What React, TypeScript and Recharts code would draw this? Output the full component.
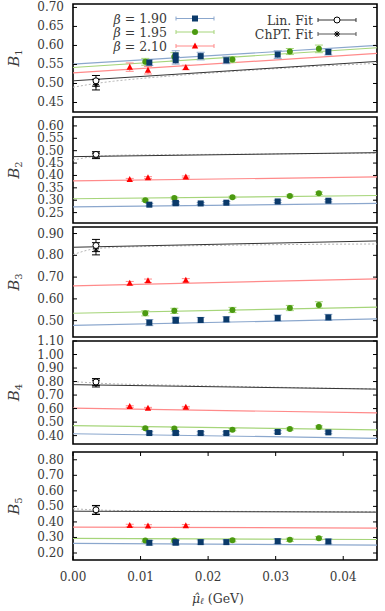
import React from "react";
import {
  ComposedChart,
  Line,
  Scatter,
  XAxis,
  YAxis,
  ErrorBar,
  ReferenceArea,
} from "recharts";

// x positions (mu_l in GeV)
const xTicks = [0, 0.01, 0.02, 0.03, 0.04];
const xB190 = [0.0113, 0.0152, 0.0152, 0.0189, 0.0227, 0.0303, 0.0378];
const xB195 = [0.0107, 0.015, 0.0236, 0.0321, 0.0364];
const xB210 = [0.0084, 0.0111, 0.0167];
const xPhys = [0.0034];
const xFit = [0, 0.045];
const xChpt = [0, 0.003, 0.006, 0.01, 0.02, 0.03, 0.045];

// B1
const b1B190 = [0.555, 0.574, 0.561, 0.572, 0.561, 0.576, 0.583];
const b1B190Err = [0.008, 0.012, 0.01, 0.01, 0.009, 0.01, 0.008];
const b1B195 = [0.557, 0.57, 0.563, 0.584, 0.591];
const b1B195Err = [0.009, 0.011, 0.008, 0.008, 0.01];
const b1B210 = [0.543, 0.535, 0.542];
const b1B210Err = [0.011, 0.01, 0.006];
const b1Lin = [0.507];
const b1Chpt = [0.497];
const b1PhysErr = [0.014];
const b1FitB190 = [0.551, 0.6];
const b1FitB195 = [0.542, 0.594];
const b1FitB210 = [0.528, 0.579];
const b1FitLin = [0.507, 0.558];
const b1FitChpt = [0.49, 0.499, 0.506, 0.513, 0.527, 0.539, 0.553];

// B2
const b2B190 = [0.282, 0.289, 0.288, 0.287, 0.29, 0.295, 0.298];
const b2B190Err = [0.005, 0.005, 0.005, 0.004, 0.005, 0.005, 0.005];
const b2B195 = [0.3, 0.309, 0.312, 0.317, 0.328];
const b2B195Err = [0.004, 0.004, 0.004, 0.004, 0.005];
const b2B210 = [0.384, 0.391, 0.394];
const b2B210Err = [0.004, 0.004, 0.004];
const b2Lin = [0.485];
const b2Chpt = [0.479];
const b2PhysErr = [0.011];
const b2FitB190 = [0.273, 0.287];
const b2FitB195 = [0.306, 0.319];
const b2FitB210 = [0.378, 0.394];
const b2FitLin = [0.476, 0.492];
const b2FitChpt = [0.462, 0.476, 0.481, 0.483, 0.485, 0.487, 0.49];

// B3
const b3B190 = [0.491, 0.503, 0.5, 0.503, 0.506, 0.512, 0.515];
const b3B190Err = [0.014, 0.014, 0.012, 0.012, 0.012, 0.014, 0.014];
const b3B195 = [0.534, 0.545, 0.549, 0.558, 0.572];
const b3B195Err = [0.012, 0.012, 0.012, 0.012, 0.015];
const b3B210 = [0.672, 0.683, 0.685];
const b3B210Err = [0.008, 0.008, 0.008];
const b3Lin = [0.845];
const b3Chpt = [0.83];
const b3PhysErr = [0.028];
const b3FitB190 = [0.478, 0.508];
const b3FitB195 = [0.534, 0.562];
const b3FitB210 = [0.66, 0.692];
const b3FitLin = [0.837, 0.866];
const b3FitChpt = [0.803, 0.829, 0.836, 0.84, 0.845, 0.849, 0.852];

// B4
const b4B190 = [0.419, 0.419, 0.42, 0.419, 0.419, 0.427, 0.424];
const b4B190Err = [0.01, 0.01, 0.01, 0.01, 0.01, 0.01, 0.01];
const b4B195 = [0.454, 0.452, 0.444, 0.449, 0.464];
const b4B195Err = [0.008, 0.008, 0.008, 0.008, 0.008];
const b4B210 = [0.615, 0.603, 0.61];
const b4B210Err = [0.006, 0.006, 0.006];
const b4Lin = [0.797];
const b4Chpt = [0.785];
const b4PhysErr = [0.025];
const b4FitB190 = [0.414, 0.38];
const b4FitB195 = [0.474, 0.442];
const b4FitB210 = [0.603, 0.568];
const b4FitLin = [0.777, 0.744];
const b4FitChpt = [0.8, 0.79, 0.783, 0.778, 0.768, 0.758, 0.745];

// B5
const b5B190 = [0.266, 0.268, 0.268, 0.27, 0.27, 0.276, 0.274];
const b5B190Err = [0.015, 0.015, 0.015, 0.015, 0.015, 0.016, 0.016];
const b5B195 = [0.281, 0.28, 0.282, 0.285, 0.295];
const b5B195Err = [0.01, 0.01, 0.01, 0.01, 0.01];
const b5B210 = [0.377, 0.374, 0.375];
const b5B210Err = [0.008, 0.008, 0.008];
const b5Lin = [0.478];
const b5Chpt = [0.476];
const b5PhysErr = [0.028];
const b5FitB190 = [0.262, 0.251];
const b5FitB195 = [0.294, 0.287];
const b5FitB210 = [0.367, 0.36];
const b5FitLin = [0.469, 0.463];
const b5FitChpt = [0.485, 0.478, 0.474, 0.472, 0.469, 0.467, 0.465];

const W = 385;
const LEFT = 73;
const RIGHT = 377;
const PAD = 8;
const FONT = "'DejaVu Serif', 'Liberation Serif', serif";
const TXT = "#3a3a3a";

const blueMark = "#0b3a6a";
const blueLine = "#8ba7cd";
const greenMark = "#4b9a10";
const greenLine = "#a6d57a";
const redMark = "#ff0000";
const redLine = "#ff8a8a";
const linColor = "#333333";
const chptColor = "#b5b5b5";

const pts = (xs: number[], ys: number[], es?: number[]) =>
  xs.map((x, i) => ({ x, y: ys[i], e: es ? es[i] : 0 }));

const SquareShape = (p: any) => (
  <rect x={p.cx - 3} y={p.cy - 3} width={6} height={6} fill={blueMark} />
);
const CircleShape = (p: any) => (
  <circle cx={p.cx} cy={p.cy} r={3} fill={greenMark} />
);
const TriShape = (p: any) => (
  <polygon
    points={`${p.cx},${p.cy - 3.5} ${p.cx - 3.2},${p.cy + 2.5} ${p.cx + 3.2},${p.cy + 2.5}`}
    fill={redMark}
  />
);
const OpenCircle = (p: any) => (
  <circle cx={p.cx} cy={p.cy} r={3} fill="#fff" stroke="#000" strokeWidth={1} />
);
const StarShape = (p: any) => (
  <g stroke="#000" strokeWidth={1}>
    <line x1={p.cx - 3} y1={p.cy} x2={p.cx + 3} y2={p.cy} />
    <line x1={p.cx} y1={p.cy - 3} x2={p.cx} y2={p.cy + 3} />
    <line x1={p.cx - 2.2} y1={p.cy - 2.2} x2={p.cx + 2.2} y2={p.cy + 2.2} />
    <line x1={p.cx - 2.2} y1={p.cy + 2.2} x2={p.cx + 2.2} y2={p.cy - 2.2} />
  </g>
);

type PanelProps = {
  top: number;
  bottom: number;
  domain: [number, number];
  ticks: number[];
  b190: number[];
  b190Err: number[];
  b195: number[];
  b195Err: number[];
  b210: number[];
  b210Err: number[];
  lin: number[];
  chpt: number[];
  physErr: number[];
  fitB190: number[];
  fitB195: number[];
  fitB210: number[];
  fitLin: number[];
  fitChpt: number[];
  last?: boolean;
};

function Panel(props: PanelProps) {
  const { top, bottom, domain, ticks, last } = props;
  const h = bottom - top;
  const xH = last ? 44 : 0;
  const height = h + PAD * 2 + xH;

  const YTick = (t: any) => (
    <g>
      <text
        x={t.x - 9}
        y={t.y}
        textAnchor="end"
        dominantBaseline="central"
        fontFamily={FONT}
        fontSize={12}
        fill={TXT}
      >
        {Number(t.payload.value).toFixed(2)}
      </text>
      <line x1={t.x} y1={t.y} x2={t.x + 4} y2={t.y} stroke="#000" />
      <line x1={RIGHT - 4} y1={t.y} x2={RIGHT} y2={t.y} stroke="#000" />
    </g>
  );

  const XTick = (t: any) => (
    <g>
      <line x1={t.x} y1={t.y} x2={t.x} y2={t.y - 4} stroke="#000" />
      <line x1={t.x} y1={t.y - h} x2={t.x} y2={t.y - h + 4} stroke="#000" />
      {last && (
        <text
          x={t.x}
          y={t.y + 17}
          textAnchor="middle"
          dominantBaseline="central"
          fontFamily={FONT}
          fontSize={12}
          fill={TXT}
        >
          {Number(t.payload.value).toFixed(2)}
        </text>
      )}
    </g>
  );

  return (
    <div style={{ position: "absolute", left: 0, top: top - PAD }}>
      <ComposedChart
        width={W}
        height={height}
        margin={{ top: PAD, right: W - RIGHT, bottom: PAD, left: 0 }}
      >
        <XAxis
          type="number"
          dataKey="x"
          domain={[0, 0.045]}
          ticks={xTicks}
          interval={0}
          allowDataOverflow
          axisLine={false}
          tickLine={false}
          tickSize={0}
          tickMargin={0}
          height={xH}
          tick={<XTick />}
        />
        <YAxis
          type="number"
          dataKey="y"
          domain={domain}
          ticks={ticks}
          interval={0}
          allowDataOverflow
          axisLine={false}
          tickLine={false}
          tickSize={0}
          tickMargin={0}
          width={LEFT}
          tick={<YTick />}
        />
        <Line
          data={pts(xFit, props.fitB190)}
          dataKey="y"
          stroke={blueLine}
          strokeWidth={1.2}
          dot={false}
          isAnimationActive={false}
        />
        <Line
          data={pts(xFit, props.fitB195)}
          dataKey="y"
          stroke={greenLine}
          strokeWidth={1.2}
          dot={false}
          isAnimationActive={false}
        />
        <Line
          data={pts(xFit, props.fitB210)}
          dataKey="y"
          stroke={redLine}
          strokeWidth={1.2}
          dot={false}
          isAnimationActive={false}
        />
        <Line
          data={pts(xChpt, props.fitChpt)}
          dataKey="y"
          type="monotone"
          stroke={chptColor}
          strokeWidth={1}
          strokeDasharray="2 2"
          dot={false}
          isAnimationActive={false}
        />
        <Line
          data={pts(xFit, props.fitLin)}
          dataKey="y"
          stroke={linColor}
          strokeWidth={1}
          dot={false}
          isAnimationActive={false}
        />
        <Scatter
          data={pts(xB210, props.b210, props.b210Err)}
          dataKey="y"
          shape={TriShape}
          isAnimationActive={false}
        >
          <ErrorBar dataKey="e" direction="y" width={4} stroke={redLine} strokeWidth={1} />
        </Scatter>
        <Scatter
          data={pts(xB195, props.b195, props.b195Err)}
          dataKey="y"
          shape={CircleShape}
          isAnimationActive={false}
        >
          <ErrorBar dataKey="e" direction="y" width={4} stroke={greenLine} strokeWidth={1} />
        </Scatter>
        <Scatter
          data={pts(xB190, props.b190, props.b190Err)}
          dataKey="y"
          shape={SquareShape}
          isAnimationActive={false}
        >
          <ErrorBar dataKey="e" direction="y" width={4} stroke={blueLine} strokeWidth={1} />
        </Scatter>
        <Scatter
          data={pts(xPhys, props.chpt, props.physErr)}
          dataKey="y"
          shape={StarShape}
          isAnimationActive={false}
        >
          <ErrorBar dataKey="e" direction="y" width={4} stroke="#000" strokeWidth={1} />
        </Scatter>
        <Scatter
          data={pts(xPhys, props.lin, props.physErr)}
          dataKey="y"
          shape={OpenCircle}
          isAnimationActive={false}
        >
          <ErrorBar dataKey="e" direction="y" width={4} stroke="#000" strokeWidth={1} />
        </Scatter>
        <ReferenceArea
          x1={0}
          x2={0.045}
          y1={domain[0]}
          y2={domain[1]}
          fill="none"
          fillOpacity={0}
          stroke="#000"
          strokeWidth={1.6}
          ifOverflow="visible"
        />
      </ComposedChart>
    </div>
  );
}

const panels: { top: number; bottom: number; sub: string }[] = [
  { top: 4, bottom: 112, sub: "1" },
  { top: 117, bottom: 223, sub: "2" },
  { top: 227, bottom: 337, sub: "3" },
  { top: 341, bottom: 444, sub: "4" },
  { top: 452, bottom: 560, sub: "5" },
];

function LegendRow({
  label,
  y,
  textEnd,
  x1,
  x2,
  color,
  marker,
}: {
  label: React.ReactNode;
  y: number;
  textEnd: number;
  x1: number;
  x2: number;
  color: string;
  marker: React.ReactNode;
}) {
  return (
    <g>
      <text
        x={textEnd}
        y={y}
        textAnchor="end"
        dominantBaseline="central"
        fontFamily={FONT}
        fontSize={12.5}
        fill={TXT}
      >
        {label}
      </text>
      <line x1={x1} y1={y} x2={x2} y2={y} stroke={color} strokeWidth={1} />
      <line x1={x1} y1={y - 2} x2={x1} y2={y + 2} stroke={color} strokeWidth={1} />
      <line x1={x2} y1={y - 2} x2={x2} y2={y + 2} stroke={color} strokeWidth={1} />
      {marker}
    </g>
  );
}

export default function App() {
  const mx1 = 195;
  const mx2 = 337;
  return (
    <div
      style={{
        position: "absolute",
        left: 0,
        top: 0,
        width: W,
        height: 611,
        background: "#fff",
      }}
    >
      <Panel
        top={4}
        bottom={112}
        domain={[0.425, 0.709]}
        ticks={[0.45, 0.5, 0.55, 0.6, 0.65, 0.7]}
        b190={b1B190}
        b190Err={b1B190Err}
        b195={b1B195}
        b195Err={b1B195Err}
        b210={b1B210}
        b210Err={b1B210Err}
        lin={b1Lin}
        chpt={b1Chpt}
        physErr={b1PhysErr}
        fitB190={b1FitB190}
        fitB195={b1FitB195}
        fitB210={b1FitB210}
        fitLin={b1FitLin}
        fitChpt={b1FitChpt}
      />
      <Panel
        top={117}
        bottom={223}
        domain={[0.208, 0.636]}
        ticks={[0.25, 0.3, 0.35, 0.4, 0.45, 0.5, 0.55, 0.6]}
        b190={b2B190}
        b190Err={b2B190Err}
        b195={b2B195}
        b195Err={b2B195Err}
        b210={b2B210}
        b210Err={b2B210Err}
        lin={b2Lin}
        chpt={b2Chpt}
        physErr={b2PhysErr}
        fitB190={b2FitB190}
        fitB195={b2FitB195}
        fitB210={b2FitB210}
        fitLin={b2FitLin}
        fitChpt={b2FitChpt}
      />
      <Panel
        top={227}
        bottom={337}
        domain={[0.425, 0.93]}
        ticks={[0.5, 0.6, 0.7, 0.8, 0.9]}
        b190={b3B190}
        b190Err={b3B190Err}
        b195={b3B195}
        b195Err={b3B195Err}
        b210={b3B210}
        b210Err={b3B210Err}
        lin={b3Lin}
        chpt={b3Chpt}
        physErr={b3PhysErr}
        fitB190={b3FitB190}
        fitB195={b3FitB195}
        fitB210={b3FitB210}
        fitLin={b3FitLin}
        fitChpt={b3FitChpt}
      />
      <Panel
        top={341}
        bottom={444}
        domain={[0.338, 1.1]}
        ticks={[0.4, 0.5, 0.6, 0.7, 0.8, 0.9, 1.0, 1.1]}
        b190={b4B190}
        b190Err={b4B190Err}
        b195={b4B195}
        b195Err={b4B195Err}
        b210={b4B210}
        b210Err={b4B210Err}
        lin={b4Lin}
        chpt={b4Chpt}
        physErr={b4PhysErr}
        fitB190={b4FitB190}
        fitB195={b4FitB195}
        fitB210={b4FitB210}
        fitLin={b4FitLin}
        fitChpt={b4FitChpt}
      />
      <Panel
        top={452}
        bottom={560}
        domain={[0.155, 0.85]}
        ticks={[0.2, 0.3, 0.4, 0.5, 0.6, 0.7, 0.8]}
        b190={b5B190}
        b190Err={b5B190Err}
        b195={b5B195}
        b195Err={b5B195Err}
        b210={b5B210}
        b210Err={b5B210Err}
        lin={b5Lin}
        chpt={b5Chpt}
        physErr={b5PhysErr}
        fitB190={b5FitB190}
        fitB195={b5FitB195}
        fitB210={b5FitB210}
        fitLin={b5FitLin}
        fitChpt={b5FitChpt}
        last
      />
      <svg
        width={W}
        height={611}
        style={{ position: "absolute", left: 0, top: 0, pointerEvents: "none" }}
      >
        {panels.map((p) => (
          <text
            key={p.sub}
            transform={`translate(14, ${(p.top + p.bottom) / 2}) rotate(-90)`}
            textAnchor="middle"
            dominantBaseline="central"
            fontFamily={FONT}
            fontSize={15}
            fill={TXT}
          >
            <tspan fontStyle="italic">B</tspan>
            <tspan fontSize={10} dy={4}>
              {p.sub}
            </tspan>
          </text>
        ))}
        <text
          x={218}
          y={598}
          textAnchor="middle"
          dominantBaseline="central"
          fontFamily={FONT}
          fontSize={12.5}
          fill={TXT}
        >
          <tspan fontStyle="italic">μ̂</tspan>
          <tspan fontStyle="italic" fontSize={9} dy={3}>
            ℓ
          </tspan>
          <tspan dy={-3}> (GeV)</tspan>
        </text>

        <LegendRow
          label={
            <>
              <tspan fontStyle="italic">β</tspan> = 1.90
            </>
          }
          y={18.5}
          textEnd={167}
          x1={176}
          x2={214}
          color={blueLine}
          marker={<rect x={mx1 - 3} y={15.5} width={6} height={6} fill={blueMark} />}
        />
        <LegendRow
          label={
            <>
              <tspan fontStyle="italic">β</tspan> = 1.95
            </>
          }
          y={32}
          textEnd={167}
          x1={176}
          x2={214}
          color={greenLine}
          marker={<circle cx={mx1} cy={32} r={3} fill={greenMark} />}
        />
        <LegendRow
          label={
            <>
              <tspan fontStyle="italic">β</tspan> = 2.10
            </>
          }
          y={46}
          textEnd={167}
          x1={176}
          x2={214}
          color={redLine}
          marker={
            <polygon
              points={`${mx1},${42.5} ${mx1 - 3.2},${48.5} ${mx1 + 3.2},${48.5}`}
              fill={redMark}
            />
          }
        />
        <LegendRow
          label="Lin. Fit"
          y={20}
          textEnd={313}
          x1={318}
          x2={356}
          color={linColor}
          marker={
            <circle cx={mx2} cy={20} r={3} fill="#fff" stroke="#000" strokeWidth={1} />
          }
        />
        <LegendRow
          label="ChPT. Fit"
          y={34}
          textEnd={313}
          x1={318}
          x2={356}
          color="#555"
          marker={
            <g stroke="#000" strokeWidth={1}>
              <line x1={mx2 - 3} y1={34} x2={mx2 + 3} y2={34} />
              <line x1={mx2} y1={31} x2={mx2} y2={37} />
              <line x1={mx2 - 2.2} y1={31.8} x2={mx2 + 2.2} y2={36.2} />
              <line x1={mx2 - 2.2} y1={36.2} x2={mx2 + 2.2} y2={31.8} />
            </g>
          }
        />
      </svg>
    </div>
  );
}
